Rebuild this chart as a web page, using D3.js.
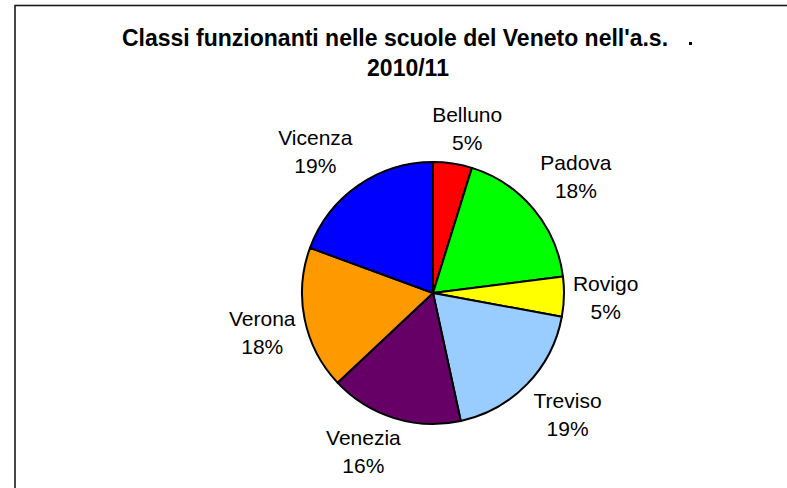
<!DOCTYPE html>
<html>
<head>
<meta charset="utf-8">
<script src="https://cdn.jsdelivr.net/npm/d3@7"></script>
<style>
  html, body { margin: 0; padding: 0; background: #fff; }
  svg { display: block; }
</style>
</head>
<body>
<svg id="chart" width="787" height="488"></svg>
<script>
// ---- data ----
const provinces = ["Belluno", "Padova", "Rovigo", "Treviso", "Venezia", "Verona", "Vicenza"];
const shares = [4.8, 18.2, 4.9, 18.7, 16.4, 17.6, 19.4];
const sliceColors = ["#FF0000", "#00FF00", "#FFFF00", "#99CCFF", "#660066", "#FF9900", "#0000FF"];
const titleLines = ["Classi funzionanti nelle scuole del Veneto nell'a.s.", "2010/11"];

// ---- layout ----
const W = 787, H = 488;
const cx = 433, cy = 293, R = 131;
const labelGap = 9, labelFont = 21, lineH = 28, pushK = 2.5, labelLift = 4;

const svg = d3.select("#chart");

// chart area border (clipped at right/bottom)
svg.append("rect")
  .attr("x", 15).attr("y", 5.5)
  .attr("width", W + 20).attr("height", H + 20)
  .attr("fill", "#fff").attr("stroke", "#1a1a1a").attr("stroke-width", 1.6);

// tiny legend remnant
svg.append("rect").attr("x", 689).attr("y", 42).attr("width", 3).attr("height", 3).attr("fill", "#000");

// title
const title = svg.append("g").attr("font-family", "Liberation Sans, Arial, sans-serif")
  .attr("font-weight", "bold").attr("font-size", 23).attr("fill", "#000").attr("text-anchor", "middle");
title.append("text").attr("x", 395).attr("y", 46).text(titleLines[0]);
title.append("text").attr("x", 408).attr("y", 76).text(titleLines[1]);

// pie
const data = provinces.map((p, i) => ({ name: p, value: shares[i], color: sliceColors[i] }));
const total = d3.sum(shares);
const pie = d3.pie().sort(null).value(d => d.value).startAngle(0).endAngle(2 * Math.PI);
const arcs = pie(data);
const arc = d3.arc().innerRadius(0).outerRadius(R);

const g = svg.append("g").attr("transform", `translate(${cx},${cy})`);
g.selectAll("path").data(arcs).join("path")
  .attr("d", arc)
  .attr("fill", d => d.data.color)
  .attr("stroke", "#000")
  .attr("stroke-width", 2)
  .attr("stroke-linejoin", "round");

// labels: outside end, box pushed away from the pie along the mid angle
const lg = g.append("g").attr("font-family", "Liberation Sans, Arial, sans-serif")
  .attr("font-size", labelFont).attr("fill", "#000").attr("text-anchor", "middle");

const clamp = v => Math.max(-1, Math.min(1, v));
arcs.forEach(d => {
  const a = (d.startAngle + d.endAngle) / 2;
  const ux = Math.sin(a), uy = -Math.cos(a);
  const t = lg.append("text");
  t.append("tspan").attr("x", 0).attr("dy", 0).text(d.data.name);
  t.append("tspan").attr("x", 0).attr("dy", lineH).text(Math.round(d.data.value / total * 100) + "%");
  const bb = t.node().getBBox();
  const w = bb.width, h = bb.height;
  const px = (R + labelGap) * ux + clamp(pushK * ux) * w / 2;
  const py = (R + labelGap) * uy + clamp(pushK * uy) * h / 2;
  const bcx = bb.x + bb.width / 2, bcy = bb.y + (bb.height - 6) / 2;
  t.attr("transform", `translate(${px - bcx},${py - bcy - labelLift})`);
});
</script>
</body>
</html>
